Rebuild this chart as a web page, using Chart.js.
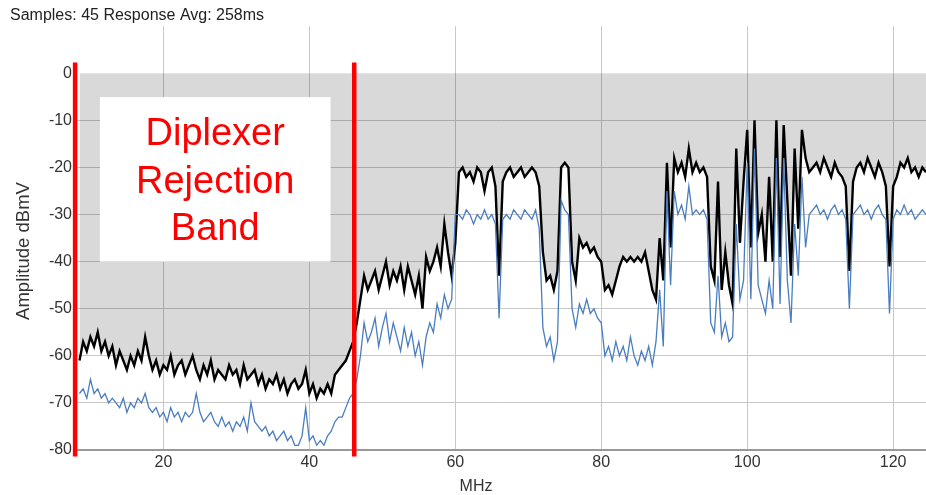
<!DOCTYPE html>
<html>
<head>
<meta charset="utf-8">
<script src="https://cdn.jsdelivr.net/npm/chart.js@4.4.1/dist/chart.umd.min.js"></script>
<style>
  html, body { margin: 0; padding: 0; background: #fff; }
  #wrap { width: 926px; height: 495px; position: relative; }
</style>
</head>
<body>
<div id="wrap"><canvas id="spectrum"></canvas></div>
<script>
// sweep frequencies, MHz
var freqs = [
  8.5, 9, 9.5, 10, 10.5, 11, 11.5, 12, 12.5, 13,
  13.5, 14, 14.5, 15, 15.5, 16, 16.5, 17, 17.5, 18,
  18.5, 19, 19.5, 20, 20.5, 21, 21.5, 22, 22.5, 23,
  23.5, 24, 24.5, 25, 25.5, 26, 26.5, 27, 27.5, 28,
  28.5, 29, 29.5, 30, 30.5, 31, 31.5, 32, 32.5, 33,
  33.5, 34, 34.5, 35, 35.5, 36, 36.5, 37, 37.5, 38,
  38.5, 39, 39.5, 40, 40.5, 41, 41.5, 42, 42.5, 43,
  43.5, 44, 44.5, 45, 45.5, 46, 46.5, 47, 47.5, 48,
  48.5, 49, 49.5, 50, 50.5, 51, 51.5, 52, 52.5, 53,
  53.5, 54, 54.5, 55, 55.5, 56, 56.5, 57, 57.5, 58,
  58.5, 59, 59.5, 60, 60.5, 61, 61.5, 62, 62.5, 63,
  63.5, 64, 64.5, 65, 65.5, 66, 66.5, 67, 67.5, 68,
  68.5, 69, 69.5, 70, 70.5, 71, 71.5, 72, 72.5, 73,
  73.5, 74, 74.5, 75, 75.5, 76, 76.5, 77, 77.5, 78,
  78.5, 79, 79.5, 80, 80.5, 81, 81.5, 82, 82.5, 83,
  83.5, 84, 84.5, 85, 85.5, 86, 86.5, 87, 87.5, 88,
  88.5, 89, 89.5, 90, 90.5, 91, 91.5, 92, 92.5, 93,
  93.5, 94, 94.5, 95, 95.5, 96, 96.5, 97, 97.5, 98,
  98.5, 99, 99.5, 100, 100.5, 101, 101.5, 102, 102.5, 103,
  103.5, 104, 104.5, 105, 105.5, 106, 106.5, 107, 107.5, 108,
  108.5, 109, 109.5, 110, 110.5, 111, 111.5, 112, 112.5, 113,
  113.5, 114, 114.5, 115, 115.5, 116, 116.5, 117, 117.5, 118,
  118.5, 119, 119.5, 120, 120.5, 121, 121.5, 122, 122.5, 123,
  123.5, 124, 124.5
];

// peak trace (black), dBmV
var peak = [
  -61, -57, -59, -56, -58, -55, -59, -57, -60, -58,
  -62, -59, -61, -63, -60, -62, -59, -61, -56, -60,
  -63, -61, -64, -62, -63, -60, -64, -62, -61, -64,
  -62, -60, -63, -65, -62, -64, -61, -65, -63, -64,
  -65, -62, -64, -63, -66, -62, -65, -64, -63, -66,
  -64, -67, -65, -66, -64, -67, -65, -68, -66, -65,
  -67, -66, -63, -68, -66, -69, -67, -68, -66, -68,
  -64, -63, -62, -61, -59, -57, -53, -48, -43, -46,
  -44, -42, -46, -43, -40, -45, -42, -44, -41, -46,
  -41, -44, -47, -43, -50, -39, -42, -40, -37, -41,
  -32, -38, -43, -36, -21, -20, -22, -21, -23, -20,
  -21, -25, -21, -20, -24, -43, -23, -21, -20, -22,
  -21, -20, -22, -21, -20, -21, -24, -38, -44, -43,
  -46, -42, -20, -19, -20, -40, -44, -35, -37, -36,
  -38, -37, -39, -40, -46, -45, -47, -44, -41, -39,
  -40, -39, -40, -39, -40, -38, -42, -46, -48, -35,
  -44, -19, -37, -18, -21, -19, -22, -16, -21, -19,
  -21, -20, -22, -41, -44, -23, -46, -38, -45, -49,
  -16, -36, -23, -12, -37, -10, -34, -30, -40, -22,
  -40, -10, -39, -11, -27, -43, -16, -33, -12, -18,
  -21, -20, -19, -21, -18, -20, -22, -19, -21, -22,
  -24, -42, -23, -20, -19, -21, -18, -20, -22, -19,
  -21, -24, -41, -24, -22, -19, -20, -18, -21, -20,
  -22, -20, -21
];

// average trace (blue), dBmV
var average = [
  -68, -67, -69, -65, -68, -67, -69, -68, -70, -69,
  -70, -71, -69, -72, -70, -71, -69, -70, -68, -71,
  -72, -71, -73, -72, -74, -71, -73, -72, -74, -72,
  -73, -72, -68, -72, -74, -73, -72, -74, -75, -73,
  -75, -74, -76, -74, -75, -73, -76, -70, -74, -75,
  -76, -75, -77, -76, -78, -77, -76, -78, -77, -79,
  -79, -77, -71, -78, -77, -79, -78, -79, -77, -76,
  -74, -73, -73, -71, -69, -68, -65, -60, -53, -57,
  -55, -52, -58, -54, -51, -57, -53, -56, -59, -54,
  -58, -55, -60, -57, -62, -56, -53, -55, -49, -52,
  -47, -50, -48, -30, -30, -31, -29, -30, -32, -30,
  -31, -29, -31, -30, -32, -52, -31, -30, -31, -29,
  -30, -31, -29, -30, -31, -29, -33, -54, -58, -56,
  -61, -57, -27, -29, -30, -50, -54, -49, -51, -48,
  -51, -50, -52, -53, -60, -58, -61, -57, -60, -58,
  -61, -56, -60, -62, -59, -61, -58, -62, -57, -46,
  -58, -25, -45, -25, -30, -28, -31, -24, -30, -29,
  -30, -29, -31, -53, -55, -43, -56, -53, -57, -56,
  -32, -48, -44, -19, -48, -16, -45, -48, -51, -44,
  -50, -18, -49, -18, -44, -53, -32, -43, -22, -37,
  -30, -29, -28, -30, -29, -31, -29, -28, -30, -29,
  -31, -50, -30, -29, -28, -30, -29, -31, -29, -28,
  -30, -31, -51, -31, -29, -30, -28, -30, -29, -31,
  -30, -29, -30
];

var yTicks = [-80, -70, -60, -50, -40, -30, -20, -10, 0];
var xTicks = [20, 40, 60, 80, 100, 120];
var bandEdges = [7.9, 46.15];
var bandLabel = ['Diplexer', 'Rejection', 'Band'];

var FONT = "'Liberation Sans', Arial, Helvetica, sans-serif";
var TEXT = '#333';

function toPoints(ys) {
  return freqs.map(function(f, i) { return { x: f, y: ys[i] }; });
}

// white label box, red band edges and the axis titles
var bandPlugin = {
  id: 'band',
  afterDatasetsDraw: function(chart) {
    var ctx = chart.ctx, xs = chart.scales.x, ys = chart.scales.y;
    ctx.save();
    var bx0 = xs.getPixelForValue(11.3), bx1 = xs.getPixelForValue(42.9);
    var by0 = ys.getPixelForValue(-5.05), by1 = ys.getPixelForValue(-40);
    ctx.fillStyle = '#fff';
    ctx.fillRect(bx0, by0, bx1 - bx0, by1 - by0);
    ctx.fillStyle = '#ff0000';
    ctx.font = '38px ' + FONT;
    ctx.textAlign = 'center';
    ctx.textBaseline = 'alphabetic';
    var cx = (bx0 + bx1) / 2;
    var baselines = [-15.25, -25.4, -35.3];
    bandLabel.forEach(function(t, i) {
      ctx.fillText(t, cx, ys.getPixelForValue(baselines[i]));
    });
    ctx.strokeStyle = '#ff0000';
    ctx.lineWidth = 4.5;
    bandEdges.forEach(function(f) {
      var px = xs.getPixelForValue(f);
      ctx.beginPath();
      ctx.moveTo(px, ys.getPixelForValue(2.3));
      ctx.lineTo(px, ys.getPixelForValue(-81.4));
      ctx.stroke();
    });
    ctx.fillStyle = TEXT;
    ctx.font = '16px ' + FONT;
    ctx.textBaseline = 'middle';
    ctx.fillText('MHz', 476, 487);
    ctx.translate(24, 251);
    ctx.rotate(-Math.PI / 2);
    ctx.font = '18.5px ' + FONT;
    ctx.fillText('Amplitude dBmV', 0, 0);
    ctx.restore();
  }
};

var ctx = document.getElementById('spectrum').getContext('2d');

var chart = new Chart(ctx, {
  type: 'line',
  data: {
    datasets: [
      {
        label: 'Average',
        data: toPoints(average),
        borderColor: '#4a7dbf',
        borderWidth: 1.3,
        pointRadius: 0,
        tension: 0,
        fill: false,
        order: 1
      },
      {
        label: 'Peak',
        data: toPoints(peak),
        borderColor: '#000',
        borderWidth: 2.4,
        pointRadius: 0,
        tension: 0,
        fill: { value: 0 },
        backgroundColor: 'rgba(0,0,0,0.15)',
        order: 2
      }
    ]
  },
  options: {
    responsive: true,
    maintainAspectRatio: false,
    animation: false,
    layout: { padding: { left: 10, right: 0, top: 0, bottom: 0 } },
    plugins: {
      legend: { display: false },
      tooltip: { enabled: false },
      title: {
        display: true,
        text: 'Samples: 45 Response Avg: 258ms',
        align: 'start',
        color: '#222',
        font: { family: FONT, size: 16, weight: 'normal' },
        padding: { top: 6, bottom: 1 }
      }
    },
    scales: {
      x: {
        type: 'linear',
        min: 8.16,
        max: 124.5,
        afterBuildTicks: function(axis) {
          axis.ticks = xTicks.map(function(v) { return { value: v }; });
        },
        afterFit: function(axis) { axis.height = 45; },
        ticks: {
          color: TEXT,
          font: { family: FONT, size: 16 },
          padding: 3,
          maxRotation: 0
        },
        grid: { color: '#c8c8c8', lineWidth: 1, drawTicks: false },
        border: { color: '#999', width: 2 },
        title: { display: false }
      },
      y: {
        min: -80,
        max: 10,
        afterBuildTicks: function(axis) {
          axis.ticks = yTicks.map(function(v) { return { value: v }; });
        },
        afterFit: function(axis) { axis.width = 67; },
        ticks: {
          color: TEXT,
          font: { family: FONT, size: 16 },
          padding: 5
        },
        grid: {
          drawTicks: false,
          color: function(c) {
            var v = c.tick ? c.tick.value : null;
            if (v === 0 || v === -80) return 'rgba(0,0,0,0)';
            return '#c8c8c8';
          }
        },
        border: { display: false },
        title: { display: false }
      }
    }
  },
  plugins: [bandPlugin]
});
</script>
</body>
</html>
